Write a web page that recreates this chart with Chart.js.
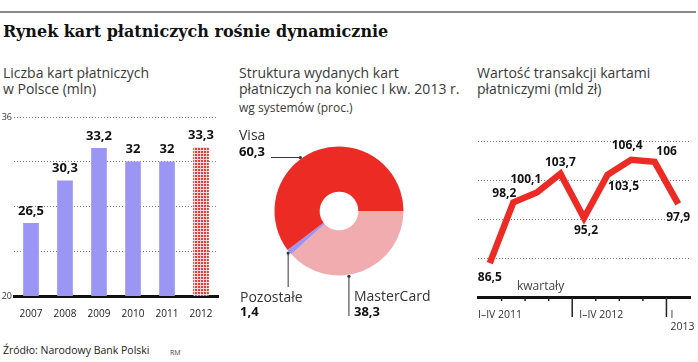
<!DOCTYPE html>
<html>
<head>
<meta charset="utf-8">
<script src="https://cdn.jsdelivr.net/npm/chart.js@4"></script>
<style>
body { margin: 0; background: #fff; width: 698px; height: 362px; position: relative; overflow: hidden; font-family: "Open Sans", sans-serif; color: #333; }
.abs { position: absolute; white-space: nowrap; }
#rule { left: 0; top: 11px; width: 696px; height: 2px; background: #8a8a8a; }
#title { left: 3px; top: 23px; font: bold 16px/18px "DejaVu Serif", serif; color: #111; }
.sub { font-size: 14px; line-height: 15.5px; color: #3a3a3a; }
#note { left: 239px; top: 101px; font-size: 12px; line-height: 14px; color: #3a3a3a; }
#source { left: 3px; top: 344px; font-size: 10.5px; line-height: 13px; color: #222; }
#rm { left: 170px; top: 348px; font-size: 7px; line-height: 9px; color: #444; }
canvas { position: absolute; }
</style>
</head>
<body>
<div id="rule" class="abs"></div>
<div id="title" class="abs">Rynek kart płatniczych rośnie dynamicznie</div>
<div class="abs sub" style="left:3px;top:65px">Liczba kart płatniczych<br>w Polsce (mln)</div>
<div class="abs sub" style="left:239px;top:65px">Struktura wydanych kart<br>płatniczych na koniec I kw. 2013 r.</div>
<div id="note" class="abs">wg systemów (proc.)</div>
<div class="abs sub" style="left:477px;top:65px">Wartość transakcji kartami<br>płatniczymi (mld zł)</div>
<div id="source" class="abs">Źródło: Narodowy Bank Polski</div>
<div id="rm" class="abs">RM</div>

<canvas id="cards" width="225" height="222" style="left:0;top:100px"></canvas>
<canvas id="systems" width="230" height="210" style="left:230px;top:120px"></canvas>
<canvas id="turnover" width="228" height="225" style="left:470px;top:120px"></canvas>

<script>
// liczba kart (mln)
const years = ['2007', '2008', '2009', '2010', '2011', '2012'];
const cards = [26.5, 30.3, 33.2, 32, 32, 33.3];
const cardTicks = [20, 36];

// struktura wg systemów (proc.)
const systems = ['MasterCard', 'Pozostałe', 'Visa'];
const shares = [38.3, 1.4, 60.3];

// wartość transakcji (mld zł), kwartały
const quarters = ['I', 'II', 'III', 'IV', 'I', 'II', 'III', 'IV', 'I'];
const quarterYears = ['2011', '2011', '2011', '2011', '2012', '2012', '2012', '2012', '2013'];
const turnover = [86.5, 98.2, 100.1, 103.7, 95.2, 103.5, 106.4, 106, 97.9];

const red = 'rgb(236,43,37)';
const pink = 'rgb(241,172,176)';
const lavender = 'rgb(155,149,244)';
const font = '"Open Sans", sans-serif';

Chart.defaults.font.family = font;
Chart.defaults.animation = false;

const fmt = v => String(v).replace('.', ',');

function dots() {
	const c = document.createElement('canvas');
	c.width = 3; c.height = 3;
	const g = c.getContext('2d');
	g.fillStyle = '#fbdada';
	g.fillRect(0, 0, 3, 3);
	g.fillStyle = '#e8393b';
	g.fillRect(0, 0, 2, 2);
	return g.createPattern(c, 'repeat');
}

//Bar chart
const barLabels = {
	id: 'barLabels',
	afterDatasetsDraw(chart) {
		const ctx = chart.ctx;
		ctx.save();
		ctx.font = 'bold 13px ' + font;
		ctx.fillStyle = '#111';
		ctx.textAlign = 'center';
		ctx.textBaseline = 'middle';
		chart.getDatasetMeta(0).data.forEach((bar, i) => {
			ctx.fillText(fmt(cards[i]), bar.x, bar.y - 12);
		});
		ctx.restore();
	}
};

const dotFill = dots();
new Chart(document.getElementById('cards'), {
	type: 'bar',
	data: {
		labels: years,
		datasets: [{
			data: cards,
			backgroundColor: c => c.dataIndex === years.length - 1 ? dotFill : lavender,
			barThickness: 15
		}]
	},
	options: {
		responsive: false,
		layout: { padding: { top: 17, right: 7, left: 0, bottom: 0 } },
		plugins: { legend: { display: false }, tooltip: { enabled: false } },
		scales: {
			x: {
				grid: { display: false },
				border: { color: '#111', width: 3 },
				ticks: { color: '#222', font: { size: 10 }, padding: 4 },
				afterFit: s => { s.height = 26; }
			},
			y: {
				min: 20,
				max: 36,
				ticks: {
					stepSize: 4, padding: 2, color: '#333', font: { size: 9 },
					callback: v => cardTicks.includes(v) ? v : ''
				},
				grid: { color: c => c.tick && c.tick.value === 20 ? 'rgba(0,0,0,0)' : '#7d7d7d', drawTicks: false },
				border: { display: false, dash: [1, 2] },
				afterFit: s => { s.width = 14; }
			}
		}
	},
	plugins: [barLabels]
});

//Doughnut
const leaders = [
	{ at: 0.59, down: 196, name: [124, 177], value: [124, 192] },
	{ at: 0.5, down: 167, name: [10, 178], value: [10, 192] },
	{ at: 0.42, left: 41, name: [9, 16], value: [9, 32] }
];

const sliceLabels = {
	id: 'sliceLabels',
	afterDatasetsDraw(chart) {
		const ctx = chart.ctx;
		ctx.save();
		ctx.strokeStyle = '#333';
		ctx.fillStyle = '#333';
		ctx.lineWidth = 1;
		chart.getDatasetMeta(0).data.forEach((arc, i) => {
			const l = leaders[i];
			const a = arc.startAngle + l.at * (arc.endAngle - arc.startAngle);
			const r = arc.outerRadius + 1.5;
			const px = arc.x + Math.cos(a) * r;
			const py = arc.y + Math.sin(a) * r;
			ctx.beginPath();
			ctx.moveTo(px, py);
			if (l.down) ctx.lineTo(px, l.down);
			else ctx.lineTo(l.left, py);
			ctx.stroke();
			ctx.beginPath();
			ctx.arc(px, py, 1.6, 0, Math.PI * 2);
			ctx.fill();

			ctx.textAlign = 'left';
			ctx.textBaseline = 'middle';
			ctx.fillStyle = '#333';
			ctx.font = '14px ' + font;
			ctx.fillText(systems[i], l.name[0], l.name[1]);
			ctx.fillStyle = '#111';
			ctx.font = 'bold 13px ' + font;
			ctx.fillText(fmt(shares[i]), l.value[0], l.value[1]);
			ctx.fillStyle = '#333';
		});
		ctx.restore();
	}
};

new Chart(document.getElementById('systems'), {
	type: 'doughnut',
	data: {
		labels: systems,
		datasets: [{
			data: shares,
			backgroundColor: [pink, lavender, red],
			borderWidth: 0
		}]
	},
	options: {
		responsive: false,
		rotation: 90,
		cutout: '30%',
		layout: { padding: { left: 44.5, top: 26.5, right: 56.5, bottom: 54.5 } },
		plugins: { legend: { display: false }, tooltip: { enabled: false } }
	},
	plugins: [sliceLabels]
});

//Line chart
const labelOffsets = [[0, 14], [-9, -9], [-11, -13], [0, -11], [2, 13], [16, 12], [-4, -14], [12, -10], [0, 14]];

const groups = [];
quarterYears.forEach((y, i) => {
	const g = groups[groups.length - 1];
	if (g && g.year === y) g.last = i;
	else groups.push({ year: y, first: i, last: i });
});

const quarterAxis = {
	id: 'quarterAxis',
	afterDraw(chart) {
		const ctx = chart.ctx;
		const x = chart.scales.x;
		const area = chart.chartArea;
		const half = (x.getPixelForValue(1) - x.getPixelForValue(0)) / 2;
		const edge = i => x.getPixelForValue(i) - half;
		ctx.save();
		ctx.strokeStyle = '#222';
		ctx.lineWidth = 1.5;
		for (let i = 1; i < quarters.length; i++) {
			const len = quarterYears[i] !== quarterYears[i - 1] ? 20 : 4;
			ctx.beginPath();
			ctx.moveTo(edge(i), area.bottom);
			ctx.lineTo(edge(i), area.bottom + len);
			ctx.stroke();
		}
		ctx.fillStyle = '#333';
		ctx.font = '10.5px ' + font;
		ctx.textAlign = 'left';
		ctx.textBaseline = 'middle';
		groups.forEach(g => {
			const single = g.first === g.last;
			const lx = edge(g.first) + (g.first ? (single ? 4 : 7) : 0);
			const lines = single
				? [quarters[g.first], g.year]
				: [quarters[g.first] + '–' + quarters[g.last] + ' ' + g.year];
			lines.forEach((t, k) => ctx.fillText(t, lx, area.bottom + 18 + k * 12));
		});
		ctx.font = '12px ' + font;
		ctx.fillStyle = '#444';
		ctx.fillText('kwartały', area.left + 39, area.bottom - 10);

		ctx.font = 'bold 12px ' + font;
		ctx.fillStyle = '#111';
		ctx.textAlign = 'center';
		chart.getDatasetMeta(0).data.forEach((pt, i) => {
			ctx.fillText(fmt(turnover[i]), pt.x + labelOffsets[i][0], pt.y + labelOffsets[i][1]);
		});
		ctx.restore();
	}
};

new Chart(document.getElementById('turnover'), {
	type: 'line',
	data: {
		labels: quarters.map((q, i) => q + ' ' + quarterYears[i]),
		datasets: [{
			data: turnover,
			borderColor: red,
			borderWidth: 6.5,
			borderJoinStyle: 'miter',
			pointRadius: 0,
			tension: 0
		}]
	},
	options: {
		responsive: false,
		layout: { padding: { left: 8, right: 8, top: 21, bottom: 0 } },
		plugins: { legend: { display: false }, tooltip: { enabled: false } },
		scales: {
			x: {
				offset: true,
				grid: { display: false },
				border: { color: '#111', width: 3 },
				ticks: { display: false },
				afterFit: s => { s.height = 48; }
			},
			y: {
				min: 80,
				max: 110,
				ticks: { display: false, stepSize: 7.5 },
				grid: { color: c => c.tick && c.tick.value === 80 ? 'rgba(0,0,0,0)' : '#7d7d7d', drawTicks: false },
				border: { display: false, dash: [1, 2] },
				afterFit: s => { s.width = 0; }
			}
		}
	},
	plugins: [quarterAxis]
});
</script>
</body>
</html>
